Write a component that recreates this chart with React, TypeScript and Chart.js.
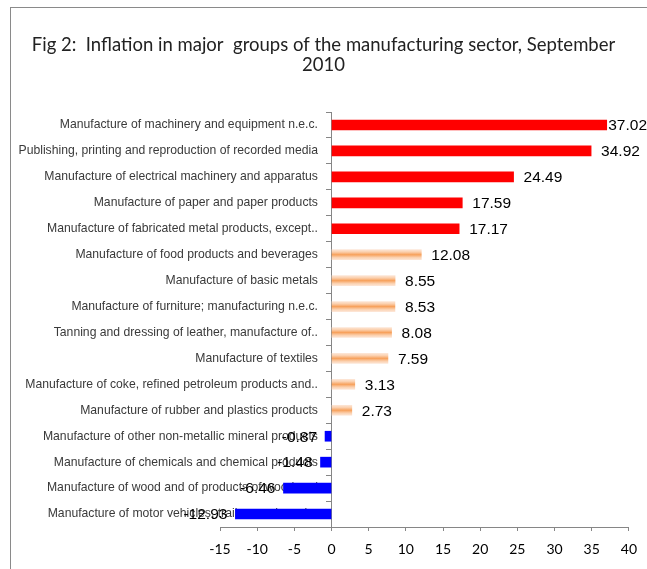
import React, { useEffect, useRef } from 'react';
import { Chart, registerables } from 'chart.js';

Chart.register(...registerables);

const titleLines = [
  'Fig 2:  Inflation in major  groups of the manufacturing sector, September',
  '2010',
];

const categories = [
  'Manufacture of machinery and equipment n.e.c.',
  'Publishing, printing and reproduction of recorded media',
  'Manufacture of electrical machinery and apparatus',
  'Manufacture of paper and paper products',
  'Manufacture of fabricated metal products, except..',
  'Manufacture of food products and beverages',
  'Manufacture of basic metals',
  'Manufacture of furniture; manufacturing n.e.c.',
  'Tanning and dressing of leather, manufacture of..',
  'Manufacture of textiles',
  'Manufacture of coke, refined petroleum products and..',
  'Manufacture of rubber and plastics products',
  'Manufacture of other non-metallic mineral products',
  'Manufacture of chemicals and chemical products',
  'Manufacture of wood and of products of wood and',
  'Manufacture of motor vehicles, trailers and semi-..',
];

const values = [
  37.02, 34.92, 24.49, 17.59, 17.17, 12.08, 8.55, 8.53, 8.08, 7.59, 3.13, 2.73,
  -0.87, -1.48, -6.46, -12.93,
];

const barKinds = [
  'red', 'red', 'red', 'red', 'red',
  'orange', 'orange', 'orange', 'orange', 'orange', 'orange', 'orange',
  'blue', 'blue', 'blue', 'blue',
];

const xMin = -15;
const xMax = 40;
const xStep = 5;

const framePlugin = {
  id: 'frame',
  beforeDraw(chart: any) {
    const ctx = chart.ctx;
    ctx.save();
    ctx.strokeStyle = '#8a8a8a';
    ctx.lineWidth = 1;
    ctx.strokeRect(10.5, 7.5, 800, 800);
    ctx.restore();
  },
};

const valueLabelPlugin = {
  id: 'valueLabels',
  afterDraw(chart: any) {
    const ctx = chart.ctx;
    const meta = chart.getDatasetMeta(0);
    ctx.save();
    ctx.font = '15.5px "Liberation Sans", Arial, sans-serif';
    ctx.fillStyle = '#000';
    ctx.textBaseline = 'middle';
    meta.data.forEach((bar: any, i: number) => {
      const v = values[i];
      const txt = v.toFixed(2);
      const w = ctx.measureText(txt).width;
      if (v >= 0) {
        let x = bar.x + 10;
        if (x + w > chart.width) x = chart.width - w;
        ctx.textAlign = 'left';
        ctx.fillText(txt, x, bar.y + 1);
      } else {
        ctx.textAlign = 'right';
        ctx.fillText(txt, bar.x - 8, bar.y + 1);
      }
    });
    ctx.restore();
  },
};

const spacerAxis = (position: string, width: number) => ({
  type: 'category',
  position,
  display: true,
  ticks: { display: false },
  grid: { display: false },
  border: { display: false },
  afterFit: (s: any) => {
    s.width = width;
  },
});

function ChartView() {
  const ref = useRef<HTMLCanvasElement | null>(null);
  useEffect(() => {
    if (!ref.current) return;
    const chart = new Chart(ref.current, {
      type: 'bar',
      data: {
        labels: categories,
        datasets: [
          {
            data: values,
            barThickness: 10,
            borderWidth: 0,
            backgroundColor: (c: any) => {
              const kind = barKinds[c.dataIndex];
              if (kind === 'red') return '#FF0000';
              if (kind === 'blue') return '#0000FF';
              const ch = c.chart;
              const ys = ch.scales && ch.scales.y;
              if (!ys || c.dataIndex === undefined) return '#F9B27A';
              const mid = ys.getPixelForValue(c.dataIndex);
              const g = ch.ctx.createLinearGradient(0, mid - 5.5, 0, mid + 5.5);
              g.addColorStop(0, '#FDE9DC');
              g.addColorStop(0.25, '#FBD0AE');
              g.addColorStop(0.5, '#F7A15C');
              g.addColorStop(0.75, '#FBD0AE');
              g.addColorStop(1, '#FDE9DC');
              return g;
            },
          },
        ],
      },
      options: {
        indexAxis: 'y',
        responsive: false,
        animation: false,
        layout: { padding: 0 },
        plugins: {
          legend: { display: false },
          tooltip: { enabled: false },
          title: {
            display: true,
            text: titleLines,
            color: '#222',
            font: { family: 'Lato', size: 18.5, weight: 'normal', lineHeight: 1.05 },
            padding: { top: 35.5, bottom: 37.7 },
          },
        },
        scales: {
          x: {
            type: 'linear',
            position: 'bottom',
            min: xMin,
            max: xMax,
            ticks: {
              stepSize: xStep,
              color: '#000',
              font: { family: 'Lato', size: 14 },
              padding: 10,
            },
            grid: {
              display: true,
              drawOnChartArea: false,
              drawTicks: true,
              tickLength: 4,
              color: '#868686',
            },
            border: { display: true, color: '#868686' },
            afterFit: (s: any) => {
              s.height = 42;
            },
          },
          y: {
            type: 'category',
            position: { x: 0 },
            z: 1,
            ticks: {
              autoSkip: false,
              color: '#3a3a3a',
              font: { family: '"Liberation Sans", Arial, sans-serif', size: 12.2 },
              callback: (_v: any, i: number) => categories[i] + '    ',
            },
            grid: {
              display: true,
              drawOnChartArea: false,
              drawTicks: true,
              tickLength: 5,
              offset: true,
              color: '#868686',
            },
            border: { display: true, color: '#868686' },
          },
          padLeft: spacerAxis('left', 220),
          padRight: spacerAxis('right', 13),
        },
      },
      plugins: [framePlugin, valueLabelPlugin],
    } as any);
    return () => chart.destroy();
  }, []);
  return <canvas ref={ref} width={647} height={569} />;
}

export default function App() {
  return (
    <div style={{ position: 'absolute', left: 0, top: 0, width: 647, height: 569, background: '#fff' }}>
      <ChartView />
    </div>
  );
}
